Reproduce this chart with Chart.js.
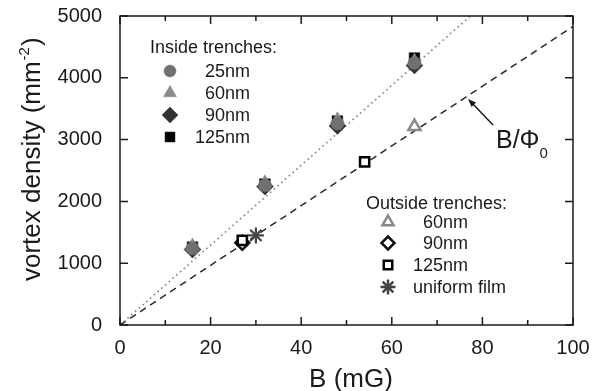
<!DOCTYPE html>
<html>
<head>
<meta charset="utf-8">
<script src="https://cdn.jsdelivr.net/npm/chart.js@4.4.1/dist/chart.umd.min.js"></script>
<style>
html,body{margin:0;padding:0;background:#fff;}
#wrap{width:601px;height:391px;position:relative;}
</style>
</head>
<body>
<div id="wrap"><canvas id="c" width="601" height="391"></canvas></div>
<script>
// ---- data ----
const insideB   = [16, 32, 48, 65];
const inside25  = [1240, 2260, 3260, 4240];
const inside60  = [1280, 2300, 3320, 4270];
const inside90  = [1220, 2240, 3220, 4200];
const inside125 = [1260, 2280, 3300, 4320];

const out60B  = [65];      const out60  = [3210];
const out90B  = [27];      const out90  = [1330];
const out125B = [27, 54];  const out125 = [1370, 2640];
const filmB   = [30];      const film   = [1450];

const fluxB = [0, 100];    const flux = [0, 4830];   // B/Phi0
const fitB  = [0, 80];     const fit  = [0, 5170];   // inside-trench trend

const xTickValues = [0, 20, 40, 60, 80, 100];
const yTickValues = [0, 1000, 2000, 3000, 4000, 5000];

const pts = (xs, ys) => xs.map((x, i) => ({x: x, y: ys[i]}));

const FONT = "'Liberation Sans', Arial, Helvetica, sans-serif";

const framePlugin = {
  id: 'frame',
  afterDatasetsDraw(chart) {
    const ctx = chart.ctx, a = chart.chartArea;
    const xs = chart.scales.x, ys = chart.scales.y;
    ctx.save();
    ctx.strokeStyle = '#1a1a1a';
    ctx.lineWidth = 1.5;
    ctx.strokeRect(a.left, a.top, a.right - a.left, a.bottom - a.top);
    for (let v = 0; v <= 100; v += 10) {
      const px = xs.getPixelForValue(v);
      const len = (v % 20 === 0) ? 8 : 5;
      ctx.beginPath();
      ctx.moveTo(px, a.bottom); ctx.lineTo(px, a.bottom - len);
      ctx.moveTo(px, a.top); ctx.lineTo(px, a.top + len);
      ctx.stroke();
    }
    for (const v of yTickValues) {
      const py = ys.getPixelForValue(v);
      ctx.beginPath();
      ctx.moveTo(a.left, py); ctx.lineTo(a.left + 8, py);
      ctx.moveTo(a.right, py); ctx.lineTo(a.right - 8, py);
      ctx.stroke();
    }
    ctx.restore();
  },
  afterDraw(chart) {
    const ctx = chart.ctx;
    const H = Chart.helpers;
    ctx.save();
    ctx.fillStyle = '#1a1a1a';
    // axis titles
    ctx.font = '26px ' + FONT;
    ctx.textAlign = 'center';
    ctx.textBaseline = 'alphabetic';
    ctx.fillText('B (mG)', 351, 387);

    // y title rotated with superscript
    ctx.save();
    ctx.translate(40, 281);
    ctx.rotate(-Math.PI / 2);
    ctx.textAlign = 'left';
    ctx.font = '26px ' + FONT;
    const main = 'vortex density (mm';
    ctx.fillText(main, 0, 0);
    let w = ctx.measureText(main).width;
    ctx.font = '15px ' + FONT;
    ctx.fillText('-2', w + 1, -11);
    w += ctx.measureText('-2').width + 2;
    ctx.font = '26px ' + FONT;
    ctx.fillText(')', w, 0);
    ctx.restore();

    // B/Phi0 annotation
    ctx.font = '25px ' + FONT;
    ctx.textAlign = 'left';
    ctx.fillText('B/\u03A6', 496, 148);
    const bw = ctx.measureText('B/\u03A6').width;
    ctx.font = '15px ' + FONT;
    ctx.fillText('0', 496 + bw, 158);
    ctx.strokeStyle = '#1a1a1a';
    ctx.lineWidth = 1.5;
    ctx.beginPath();
    ctx.moveTo(493, 125); ctx.lineTo(472, 103);
    ctx.stroke();
    ctx.beginPath();
    ctx.moveTo(468, 99); ctx.lineTo(476, 102.5); ctx.lineTo(471.5, 107);
    ctx.closePath(); ctx.fill();

    // inside legend
    ctx.font = '18px ' + FONT;
    ctx.textAlign = 'left';
    ctx.textBaseline = 'alphabetic';
    ctx.fillText('Inside trenches:', 150, 53);
    const inside = [
      {label: '25nm',  style: 'circle',   r: 6,   fill: '#707070'},
      {label: '60nm',  style: 'triangle', r: 7.5, fill: '#8a8a8a'},
      {label: '90nm',  style: 'rectRot',  r: 8,   fill: '#333333'},
      {label: '125nm', style: 'rect',     r: 7,   fill: '#000000'}
    ];
    const inRows = [71, 93, 115, 137];
    inside.forEach((it, i) => {
      ctx.fillStyle = it.fill; ctx.strokeStyle = it.fill; ctx.lineWidth = 0.5;
      H.drawPoint(ctx, {pointStyle: it.style, radius: it.r, borderWidth: 0.5, rotation: 0}, 170, inRows[i]);
      ctx.fillStyle = '#1a1a1a';
      ctx.textAlign = 'right'; ctx.textBaseline = 'middle';
      ctx.fillText(it.label, 250, inRows[i] + 1);
    });

    // outside legend
    ctx.textAlign = 'left'; ctx.textBaseline = 'alphabetic';
    ctx.fillText('Outside trenches:', 366, 209);
    const outside = [
      {label: '60nm',  style: 'triangle', r: 6.5, stroke: '#8a8a8a', right: true},
      {label: '90nm',  style: 'rectRot',  r: 6.5, stroke: '#111111', right: true},
      {label: '125nm', style: 'rect',     r: 6,   stroke: '#000000', right: true},
      {label: 'uniform film', style: 'star', r: 7.5, stroke: '#444444', right: false}
    ];
    const outRows = [222, 243, 265, 287];
    outside.forEach((it, i) => {
      ctx.fillStyle = '#ffffff'; ctx.strokeStyle = it.stroke; ctx.lineWidth = 2.5;
      H.drawPoint(ctx, {pointStyle: it.style, radius: it.r, borderWidth: 2.5, rotation: 0}, 388, outRows[i]);
      ctx.fillStyle = '#1a1a1a';
      ctx.textBaseline = 'middle';
      if (it.right) { ctx.textAlign = 'right'; ctx.fillText(it.label, 468, outRows[i] + 1); }
      else { ctx.textAlign = 'left'; ctx.fillText(it.label, 413, outRows[i] + 1); }
    });
    ctx.restore();
  }
};

const noPad = (s) => { s.paddingTop = 0; s.paddingBottom = 0; s.paddingLeft = 0; s.paddingRight = 0; };

new Chart(document.getElementById('c'), {
  type: 'scatter',
  data: {
    datasets: [
      {label: 'uniform film', data: pts(filmB, film), pointStyle: 'star', pointRadius: 8,
       borderColor: '#444', backgroundColor: '#444', pointBorderWidth: 2.2},
      {label: 'out 125nm', data: pts(out125B, out125), pointStyle: 'rect', pointRadius: 6.5,
       borderColor: '#000', backgroundColor: '#fff', pointBorderWidth: 2.5},
      {label: 'out 90nm', data: pts(out90B, out90), pointStyle: 'rectRot', pointRadius: 7,
       borderColor: '#111', backgroundColor: '#fff', pointBorderWidth: 2.5},
      {label: 'out 60nm', data: pts(out60B, out60), pointStyle: 'triangle', pointRadius: 7,
       borderColor: '#8a8a8a', backgroundColor: '#fff', pointBorderWidth: 2.5},
      {label: '25nm', data: pts(insideB, inside25), pointStyle: 'circle', pointRadius: 6.5,
       borderColor: '#707070', backgroundColor: '#707070', pointBorderWidth: 0.5},
      {label: '60nm', data: pts(insideB, inside60), pointStyle: 'triangle', pointRadius: 8,
       borderColor: '#8a8a8a', backgroundColor: '#8a8a8a', pointBorderWidth: 0.5},
      {label: '90nm', data: pts(insideB, inside90), pointStyle: 'rectRot', pointRadius: 8.5,
       borderColor: '#333', backgroundColor: '#333', pointBorderWidth: 0.5},
      {label: '125nm', data: pts(insideB, inside125), pointStyle: 'rect', pointRadius: 7.5,
       borderColor: '#000', backgroundColor: '#000', pointBorderWidth: 0.5},
      {label: 'fit', data: pts(fitB, fit), showLine: true, pointRadius: 0,
       borderColor: '#808080', borderWidth: 1.6, borderDash: [1.6, 3.4]},
      {label: 'B/Phi0', data: pts(fluxB, flux), showLine: true, pointRadius: 0,
       borderColor: '#2a2a2a', borderWidth: 1.5, borderDash: [7, 5]}
    ]
  },
  options: {
    responsive: false,
    animation: false,
    devicePixelRatio: 1,
    layout: {padding: {left: 0, right: 28, top: 16, bottom: 0}},
    plugins: {legend: {display: false}, tooltip: {enabled: false}},
    scales: {
      x: {
        type: 'linear', min: 0, max: 100,
        afterBuildTicks: (s) => { s.ticks = xTickValues.map(v => ({value: v})); },
        afterFit: (s) => { s.height = 66; noPad(s); },
        grid: {display: false}, border: {display: false},
        ticks: {font: {family: FONT, size: 20}, color: '#1a1a1a', padding: 3, maxRotation: 0,
                callback: (v) => String(v)}
      },
      y: {
        type: 'linear', min: 0, max: 5000,
        afterBuildTicks: (s) => { s.ticks = yTickValues.map(v => ({value: v})); },
        afterFit: (s) => { s.width = 120; noPad(s); },
        grid: {display: false}, border: {display: false},
        ticks: {font: {family: FONT, size: 20}, color: '#1a1a1a', padding: 10,
                callback: (v) => String(v)}
      }
    }
  },
  plugins: [framePlugin]
});
</script>
</body>
</html>
